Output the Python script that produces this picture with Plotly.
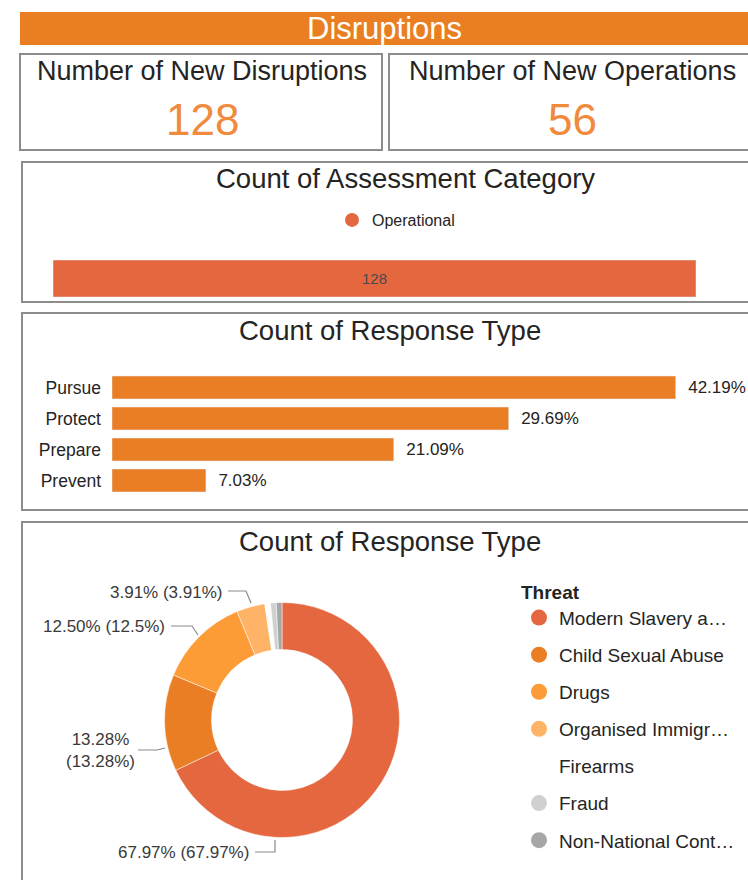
import plotly.graph_objects as go

W, H = 748, 880

# ---------------- data ----------------
header_title = "Disruptions"
kpi_titles = ["Number of New Disruptions", "Number of New Operations"]
kpi_values = [128, 56]

assess_categories = ["Operational"]
assess_counts = [128]

response_types = ["Pursue", "Protect", "Prepare", "Prevent"]
response_pcts = [42.19, 29.69, 21.09, 7.03]

threat_labels = ["Modern Slavery a…", "Child Sexual Abuse", "Drugs",
                 "Organised Immigr…", "Firearms", "Fraud", "Non-National Cont…"]
threat_counts = [87, 17, 16, 5, 1, 1, 1]
threat_colors = ["#E4673F", "#E97E25", "#FD9B37", "#FFB366", "#FFFFFF", "#D0D0D0", "#A6A6A6"]

FONT = "Liberation Sans, Arial, sans-serif"
DARK = "#252423"
ORANGE = "#E97E25"


def px(x):
    return x / W


def py(y):
    return 1 - y / H


fig = go.Figure()

# ---- Assessment category bar ----
fig.add_trace(go.Bar(
    x=assess_counts, y=assess_categories, orientation="h",
    marker=dict(color="#E4673F"), width=1,
    text=[str(v) for v in assess_counts], textposition="inside",
    insidetextanchor="middle", textfont=dict(size=15, color="#4a4a4a", family=FONT),
    xaxis="x", yaxis="y", showlegend=False, hoverinfo="skip"))
fig.add_trace(go.Scatter(
    x=[None], y=[None], mode="markers", name=assess_categories[0],
    marker=dict(symbol="circle", size=14, color="#E4673F"),
    xaxis="x", yaxis="y", legend="legend", showlegend=True))

# ---- Response type bars ----
fig.add_trace(go.Bar(
    x=response_pcts, y=response_types, orientation="h",
    marker=dict(color=ORANGE), width=0.74,
    text=[f"\u00a0\u00a0{v:.2f}%" for v in response_pcts], textposition="outside",
    textfont=dict(size=17, color=DARK, family=FONT), cliponaxis=False,
    xaxis="x2", yaxis="y2", showlegend=False, hoverinfo="skip"))

# ---- Threat donut ----
total = sum(threat_counts)
fig.add_trace(go.Pie(
    labels=threat_labels, values=threat_counts,
    textinfo="none",
    marker=dict(colors=threat_colors, line=dict(color="white", width=0.5)),
    hole=0.6, sort=False, direction="clockwise", rotation=0,
    domain=dict(x=[px(164.5), px(399.5)], y=[py(837.5), py(602.5)]),
    showlegend=False, hoverinfo="skip"))
for lab, col in zip(threat_labels, threat_colors):
    fig.add_trace(go.Scatter(
        x=[None], y=[None], mode="markers", name=lab, legendgroup=lab,
        marker=dict(symbol="circle", size=16, color=col),
        xaxis="x", yaxis="y", legend="legend2", showlegend=True))

# ---------------- shapes (panels) ----------------
shapes = []
border = dict(color="#8c8c8c", width=2)
shapes.append(dict(type="rect", xref="paper", yref="paper", x0=px(20), x1=px(748), y0=py(45), y1=py(12),
                   fillcolor="#EA7E23", line=dict(width=0), layer="below"))
for (x0, y0, x1, y1) in [(20, 54, 382, 150), (389, 54, 749, 150), (22, 162, 749, 302),
                         (22, 313, 749, 510), (22, 522, 749, 884)]:
    shapes.append(dict(type="rect", xref="paper", yref="paper", x0=px(x0), x1=px(x1), y0=py(y1), y1=py(y0),
                       line=border, fillcolor="rgba(0,0,0,0)", layer="below"))

annotations = []


def ann(text, x, y, size, color=DARK, xanchor="center", **kw):
    annotations.append(dict(text=text, x=px(x), y=py(y), xref="paper", yref="paper", showarrow=False,
                            xanchor=xanchor, yanchor="middle",
                            font=dict(size=size, color=color, family=FONT), **kw))


ann(header_title, 385, 28, 31, "white")
ann(kpi_titles[0], 202, 71, 27)
ann(str(kpi_values[0]), 202, 119, 44, "#F08A3C")
ann(kpi_titles[1], 572, 71, 27)
ann(str(kpi_values[1]), 572, 119, 44, "#F08A3C")
ann("Count of Assessment Category", 405, 179, 27.5)
ann("Count of Response Type", 390, 330, 27.5)
ann("Count of Response Type", 390, 541, 27.5)

# ---- donut outside labels with leader lines ----
pct_long = [f"{v / total * 100:.2f}%" for v in threat_counts]
pct_short = [f"{round(v / total * 100, 2):g}%" for v in threat_counts]
labels_txt = [f"{a} ({b})" for a, b in zip(pct_long, pct_short)]
labels_txt[1] = f"{pct_long[1]}<br>({pct_short[1]})"
label_specs = [  # (slice index, text x, text y, anchor, leader path)
    (0, 251, 852, "right", "M 255 852 L 275 852 L 275 840"),
    (1, 100, 750, "center", "M 138 750 L 157 750 L 165 748"),
    (2, 167, 626, "right", "M 171 626 L 192 626 L 198 635"),
    (3, 224, 592, "right", "M 228 591 L 246 591 L 251 603"),
]
for idx, x, y, anchor, path in label_specs:
    ann(labels_txt[idx], x, y, 17, "#3a3a3a", xanchor=anchor)
    pts = path.replace("M", "").split("L")
    pts = [tuple(float(v) for v in p.split()) for p in pts]
    d = "M " + " L ".join(f"{px(a):.5f},{py(b):.5f}" for a, b in pts)
    shapes.append(dict(type="path", xref="paper", yref="paper", path=d,
                       line=dict(color="#8a8a8a", width=1.2)))

fig.update_layout(
    width=W, height=H, margin=dict(l=0, r=0, t=0, b=0),
    paper_bgcolor="white", plot_bgcolor="white",
    font=dict(family=FONT, color=DARK),
    shapes=shapes, annotations=annotations,
    xaxis=dict(domain=[px(53), px(696)], range=[0, assess_counts[0]], visible=False, fixedrange=True),
    yaxis=dict(domain=[py(297), py(260)], range=[-0.5, 0.5], visible=False, fixedrange=True),
    xaxis2=dict(domain=[px(112), 1], range=[0, 47.6], visible=False, anchor="y2"),
    yaxis2=dict(domain=[py(496), py(372)], autorange="reversed", anchor="x2",
                showgrid=False, showline=False, ticks="", ticklabelstandoff=10,
                tickfont=dict(size=17.5, color=DARK, family=FONT)),
    legend=dict(orientation="h", x=px(332), y=py(220), xanchor="left", yanchor="middle",
                font=dict(size=16, color=DARK, family=FONT), bgcolor="rgba(0,0,0,0)",
                itemwidth=30),
    legend2=dict(orientation="v", x=px(519), y=py(574), xanchor="left", yanchor="top",
                 title=dict(text="<b>Threat</b>", font=dict(size=19, color=DARK, family=FONT)),
                 font=dict(size=19, color=DARK, family=FONT), tracegroupgap=9.4,
                 bgcolor="rgba(0,0,0,0)", itemwidth=30),
)

fig.write_html("out.html", config={"displayModeBar": False},
               post_script="document.body.style.margin='0px';")
